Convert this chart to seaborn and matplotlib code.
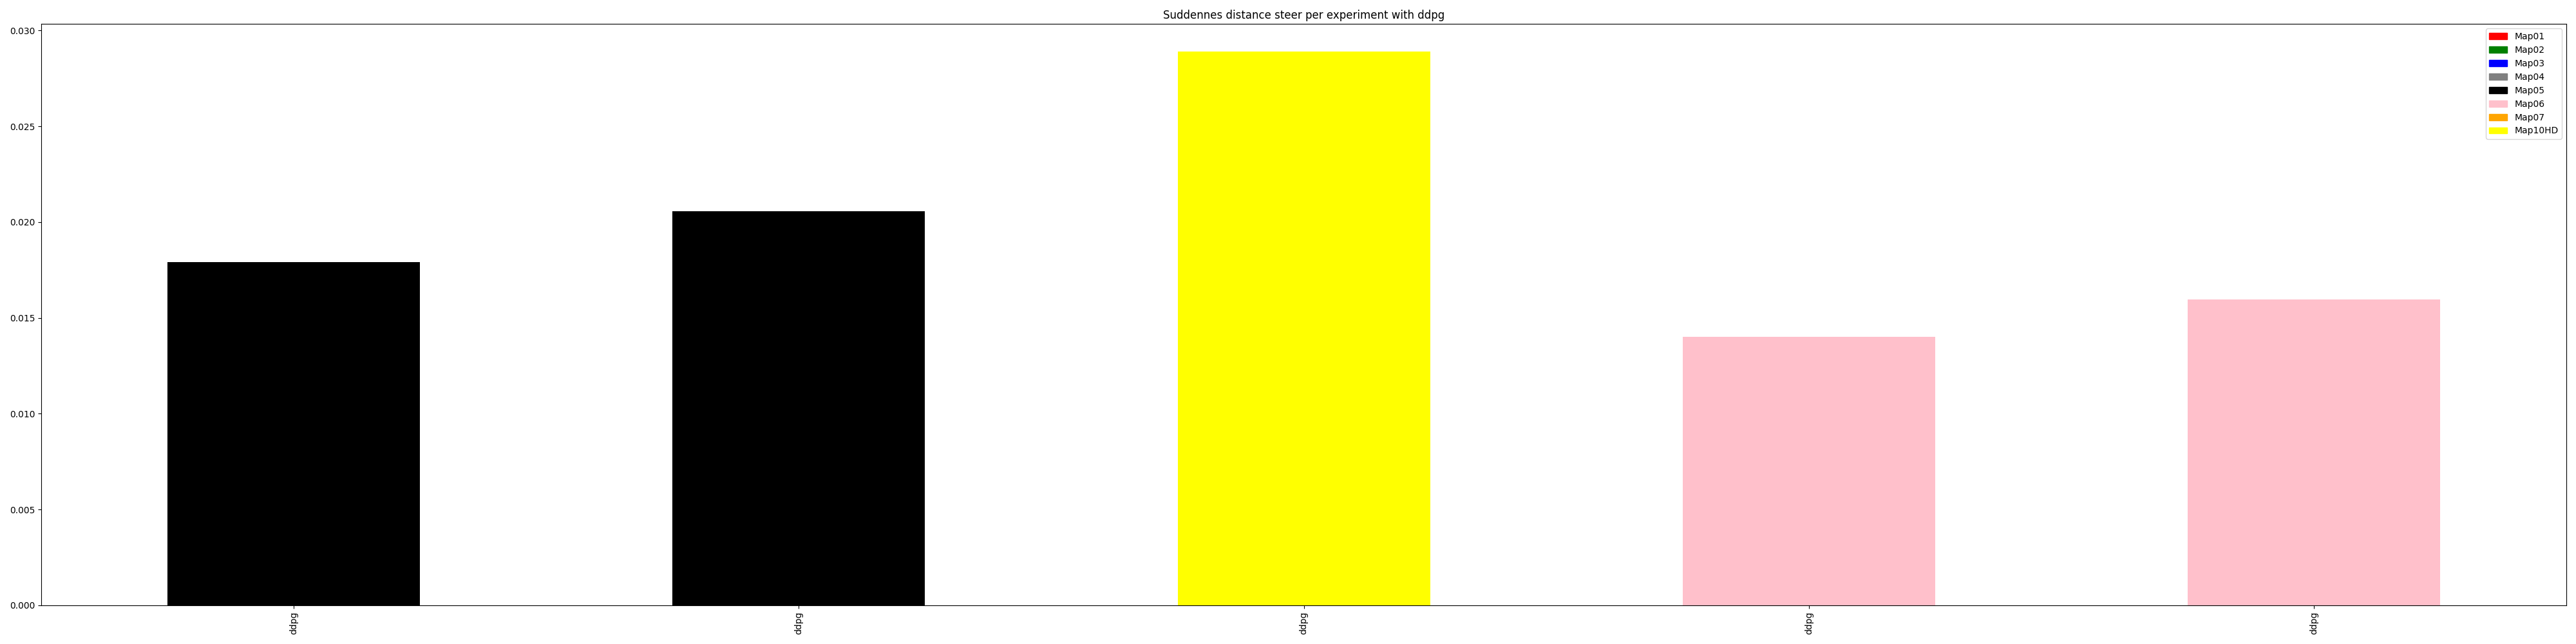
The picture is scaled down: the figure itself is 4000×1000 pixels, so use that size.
import pandas as pd
import seaborn as sns
import matplotlib.pyplot as plt
from matplotlib.patches import Patch

maps = ["Map01", "Map02", "Map03", "Map04", "Map05", "Map06", "Map07", "Map10HD"]
map_colors = ["red", "green", "blue", "grey", "black", "pink", "orange", "yellow"]

experiments = ["ddpg", "ddpg", "ddpg", "ddpg", "ddpg"]
exp_maps = ["Map05", "Map05", "Map10HD", "Map06", "Map06"]
suddenness = [0.01791, 0.02056, 0.02889, 0.01401, 0.01596]

df = pd.DataFrame({
    "run": range(len(experiments)),
    "agent": experiments,
    "map": exp_maps,
    "value": suddenness,
})

palette = dict(zip(maps, map_colors))

fig, ax = plt.subplots(figsize=(40, 10), dpi=100)
sns.barplot(data=df, x="run", y="value", hue="map", palette=palette,
            dodge=False, width=0.5, saturation=1, legend=False, ax=ax)
ax.set_xticks(df["run"])
ax.set_xticklabels(df["agent"], rotation=90)
ax.set_xlim(-0.5, len(df) - 0.5)
ax.set_ylim(0, max(suddenness) * 1.05)
ax.set_xlabel("")
ax.set_ylabel("")
ax.set_title("Suddennes distance steer per experiment with ddpg")
handles = [Patch(color=c, label=m) for m, c in zip(maps, map_colors)]
ax.legend(handles=handles, loc="upper right")
plt.tight_layout()
plt.savefig("out.png")
